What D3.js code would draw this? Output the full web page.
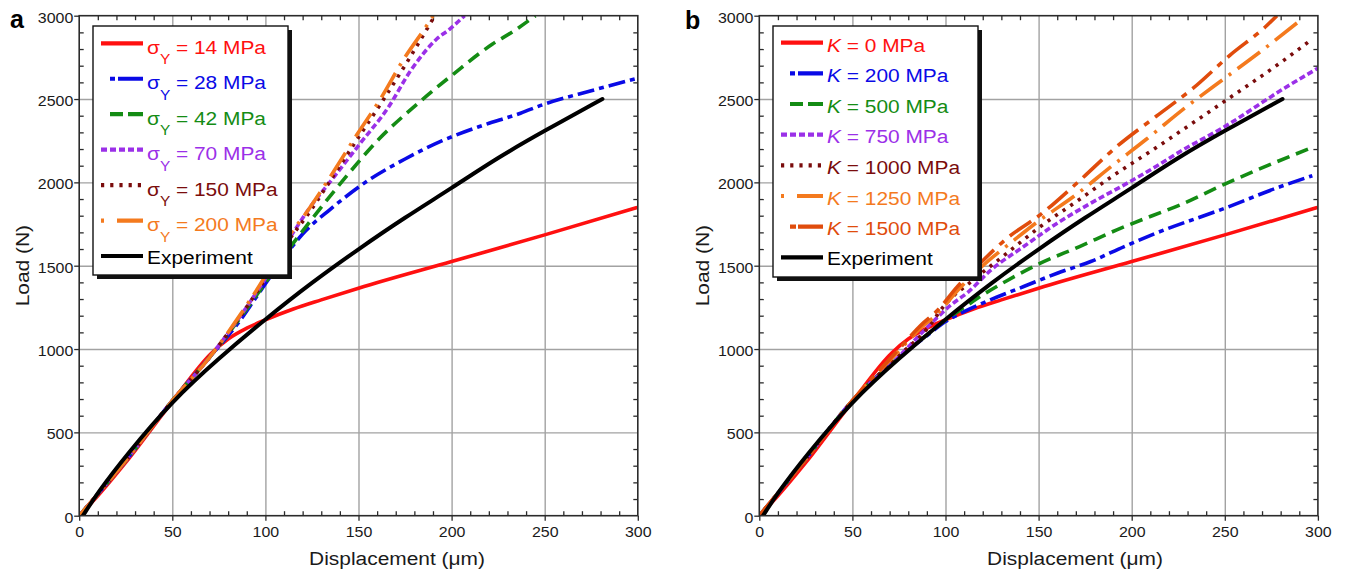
<!DOCTYPE html>
<html><head><meta charset="utf-8">
<script src="https://cdn.jsdelivr.net/npm/d3@7"></script>
<style>
body{margin:0;background:#fff}
svg{display:block}
text{font-family:"Liberation Sans",Arial,Helvetica,sans-serif}
</style>
</head><body>
<svg id="c" width="1345" height="575"></svg>
<script>
// ---------------- data ----------------
const xTicks = [0, 50, 100, 150, 200, 250, 300];
const yTicks = [0, 500, 1000, 1500, 2000, 2500, 3000];

const experiment = [[2,0],[10,140],[25,360],[50,690],[75,945],[100,1180],[125,1400],[150,1600],[175,1790],[200,1965],[225,2150],[250,2310],[281,2500]];

// panel a : yield stress
const sigmaY14  = [[0,0],[10,120],[25,320],[50,685],[71,975],[80,1060],[90,1125],[100,1175],[115,1240],[130,1295],[150,1365],[200,1525],[250,1685],[300,1850]];
const sigmaY28  = [[0,0],[10,130],[25,330],[50,690],[70,950],[85,1150],[95,1310],[110,1550],[120,1690],[135,1840],[155,2010],[175,2140],[195,2250],[215,2335],[237,2415],[250,2470],[275,2550],[300,2625]];
const sigmaY42  = [[0,0],[10,130],[25,330],[50,690],[70,950],[87,1195],[97,1350],[110,1560],[125,1780],[143,2030],[161,2260],[181,2465],[201,2650],[222,2830],[233,2905],[245,3000]];
const sigmaY70  = [[0,0],[10,130],[25,330],[50,690],[70,950],[87,1205],[97,1370],[115,1700],[124,1850],[137,2035],[151,2235],[166,2450],[178,2670],[192,2860],[199,2920],[207,3000]];
const sigmaY150 = [[0,0],[10,130],[25,330],[50,690],[70,950],[87,1205],[97,1370],[113,1660],[123,1810],[136,2030],[150,2270],[163,2490],[176,2720],[191,3000]];
const sigmaY200 = [[0,0],[10,130],[25,330],[50,690],[70,950],[87,1214],[97,1384],[113,1684],[123,1834],[136,2054],[149,2284],[162,2504],[174,2734],[188,2964],[190,3000]];
const labelsA = ["14", "28", "42", "70", "150", "200"];

// panel b : hardening modulus
const k0    = sigmaY14;
const k200  = [[0,0],[10,135],[25,340],[50,690],[75,950],[90,1080],[100,1165],[110,1225],[124,1295],[142,1375],[160,1455],[178,1525],[196,1615],[213,1695],[250,1845],[280,1975],[297,2040]];
const k500  = [[0,0],[10,135],[25,340],[50,690],[75,950],[90,1085],[100,1175],[110,1250],[120,1325],[133,1410],[151,1515],[172,1615],[192,1715],[211,1800],[226,1865],[250,1990],[297,2210]];
const k750  = [[0,0],[10,135],[25,340],[50,690],[75,955],[92,1150],[103,1265],[112,1340],[124,1470],[142,1615],[160,1755],[178,1875],[196,1985],[213,2095],[226,2185],[250,2335],[282,2565],[300,2685]];
const k1000 = [[0,0],[10,135],[25,340],[50,690],[75,960],[90,1120],[100,1270],[115,1415],[133,1575],[151,1735],[171,1890],[190,2040],[210,2185],[226,2305],[251,2495],[282,2735],[297,2860]];
const k1250 = [[0,0],[10,135],[25,340],[50,690],[75,990],[87,1130],[96,1215],[106,1345],[120,1500],[137,1655],[149,1760],[170,1925],[189,2095],[208,2260],[229,2450],[250,2625],[271,2800],[292,2985]];
const k1500 = [[0,0],[10,135],[25,340],[50,690],[75,1000],[87,1145],[96,1235],[106,1370],[120,1530],[132,1655],[152,1815],[171,2000],[192,2215],[213,2395],[233,2565],[253,2765],[272,2935],[278,3000]];
const labelsB = ["0", "200", "500", "750", "1000", "1250", "1500"];

// ---------------- styles ----------------
const RED = "#ff1010", BLUE = "#0a0ae6", GREEN = "#148c14", PURPLE = "#9b30e8",
      BROWN = "#7a0c0c", ORANGE = "#f47a1e", DKORANGE = "#e04c0c";
const DASH = {solid: null, dashdot: "17,5,5,5", dash: "13,7", shortdash: "6,3",
              dot: "3.2,6", dotlong: "28,8,3,8", shortlong: "26,7.5,6,7.5"};
const LEGDASH = {solid: null, dashdot: "0,9,5,3,25,100", dash: "0,9,13,5,15,100", shortdash: "6,3",
              dot: "3.2,6", dotlong: "3,13,26,100", shortlong: "0,9,6,2,26,100"};

const seriesA = [
  {data: sigmaY14,  color: RED,    dash: "solid",     lab: labelsA[0]},
  {data: sigmaY28,  color: BLUE,   dash: "dashdot",   lab: labelsA[1]},
  {data: sigmaY42,  color: GREEN,  dash: "dash",      lab: labelsA[2]},
  {data: sigmaY70,  color: PURPLE, dash: "shortdash", lab: labelsA[3]},
  {data: sigmaY150, color: BROWN,  dash: "dot",       lab: labelsA[4]},
  {data: sigmaY200, color: ORANGE, dash: "dotlong",   lab: labelsA[5]}
];
const seriesB = [
  {data: k0,    color: RED,      dash: "solid",     lab: labelsB[0]},
  {data: k200,  color: BLUE,     dash: "dashdot",   lab: labelsB[1]},
  {data: k500,  color: GREEN,    dash: "dash",      lab: labelsB[2]},
  {data: k750,  color: PURPLE,   dash: "shortdash", lab: labelsB[3]},
  {data: k1000, color: BROWN,    dash: "dot",       lab: labelsB[4]},
  {data: k1250, color: ORANGE,   dash: "dotlong",   lab: labelsB[5]},
  {data: k1500, color: DKORANGE, dash: "shortlong", lab: labelsB[6]}
];

const svg = d3.select("#c");
const TOP = 15.7, W = 558.6, H = 500, SX = 1.1, LW = 3.6;

function drawPanel(id, left, series, leg, letter, letterPos, titleX) {
  const g = svg.append("g").attr("transform", `translate(${left},${TOP})`);
  const x = d3.scaleLinear().domain([0, 300]).range([0, W]);
  const y = d3.scaleLinear().domain([0, 3000]).range([H, 0]);

  // grid
  g.append("g").call(d3.axisBottom(x).tickValues(xTicks.slice(1, -1)).tickSize(H).tickFormat(""))
    .call(s => { s.select(".domain").remove(); s.selectAll("line").attr("stroke", "#a2a2a2").attr("stroke-width", 1.4); });
  g.append("g").call(d3.axisLeft(y).tickValues(yTicks.slice(1, -1)).tickSize(-W).tickFormat(""))
    .call(s => { s.select(".domain").remove(); s.selectAll("line").attr("stroke", "#a2a2a2").attr("stroke-width", 1.4); });

  // minor ticks (inward)
  const xMinor = d3.range(10, 300, 10).filter(v => v % 50 !== 0);
  const yMinor = d3.range(100, 3000, 100).filter(v => v % 500 !== 0);
  const styleTicks = s => { s.select(".domain").remove(); s.selectAll("line").attr("stroke", "#2b2b2b").attr("stroke-width", 1.3); };
  g.append("g").attr("transform", `translate(0,${H})`).call(d3.axisBottom(x).tickValues(xMinor).tickSize(-4.5).tickFormat("")).call(styleTicks);
  g.append("g").call(d3.axisTop(x).tickValues(xMinor).tickSize(-4.5).tickFormat("")).call(styleTicks);
  g.append("g").call(d3.axisLeft(y).tickValues(yMinor).tickSize(-4.5).tickFormat("")).call(styleTicks);
  g.append("g").attr("transform", `translate(${W},0)`).call(d3.axisRight(y).tickValues(yMinor).tickSize(-4.5).tickFormat("")).call(styleTicks);

  // major axes with labels
  g.append("g").attr("transform", `translate(0,${H})`)
    .call(d3.axisBottom(x).tickValues(xTicks).tickSize(5).tickFormat(d3.format("d")))
    .call(s => {
      s.select(".domain").remove();
      s.selectAll("line").attr("stroke", "#2b2b2b").attr("stroke-width", 1.3);
      s.selectAll("text").attr("y", 21.5).attr("dy", null).attr("transform", `scale(${SX},1)`)
        .attr("font-size", 14.5).attr("fill", "#1a1a1a").attr("font-family", null);
    });
  g.append("g")
    .call(d3.axisLeft(y).tickValues(yTicks).tickSize(5).tickFormat(d3.format("d")))
    .call(s => {
      s.select(".domain").remove();
      s.selectAll("line").attr("stroke", "#2b2b2b").attr("stroke-width", 1.3);
      s.selectAll("text").attr("x", -5.4).attr("y", 6.6).attr("dy", null).attr("transform", `scale(${SX},1)`)
        .attr("font-size", 14.5).attr("fill", "#1a1a1a").attr("font-family", null);
    });

  // clip + lines
  g.append("clipPath").attr("id", "clip" + id).append("rect").attr("x", 0).attr("y", 0).attr("width", W).attr("height", H);
  const line = d3.line().x(d => x(d[0])).y(d => y(d[1])).curve(d3.curveMonotoneX);
  const lg = g.append("g").attr("clip-path", `url(#clip${id})`);
  series.forEach(s => {
    lg.append("path").attr("d", line(s.data)).attr("fill", "none").attr("stroke", s.color)
      .attr("stroke-width", LW).attr("stroke-dasharray", DASH[s.dash]).attr("stroke-linejoin", "round");
  });
  lg.append("path").attr("d", d3.line().x(d => x(d[0])).y(d => y(d[1])).curve(d3.curveBasis)(experiment))
    .attr("fill", "none").attr("stroke", "#000")
    .attr("stroke-width", LW + 0.4).attr("stroke-linecap", "round");

  // frame
  g.append("rect").attr("width", W).attr("height", H).attr("fill", "none").attr("stroke", "#2b2b2b").attr("stroke-width", 1.6);

  // legend (absolute coords)
  const L = svg.append("g");
  L.append("rect").attr("x", leg.x + 4).attr("y", leg.y + 4).attr("width", leg.w).attr("height", leg.h).attr("fill", "#111");
  L.append("rect").attr("x", leg.x).attr("y", leg.y).attr("width", leg.w).attr("height", leg.h)
    .attr("fill", "#fff").attr("stroke", "#111").attr("stroke-width", 1.4);
  const rows = series.map(s => ({color: s.color, dash: s.dash, lab: s.lab, exp: false}))
    .concat([{color: "#000", dash: "solid", lab: "Experiment", exp: true}]);
  rows.forEach((r, i) => {
    const ry = leg.y0 + i * leg.step;
    L.append("path").attr("d", `M${leg.lx0},${ry}H${leg.lx1}`).attr("stroke", r.color)
      .attr("stroke-width", LW + 0.6).attr("stroke-dasharray", LEGDASH[r.dash]).attr("fill", "none");
    if (r.exp) {
      L.append("text").attr("transform", `translate(${leg.tx},${ry + 7.5}) scale(${SX},1)`)
        .attr("font-size", 19).attr("fill", "#000").text("Experiment");
    } else if (leg.kind === "sigma") {
      const t = L.append("text").attr("transform", `translate(${leg.tx},${ry + 10.5}) scale(${SX},1)`)
        .attr("font-size", 19).attr("fill", r.color);
      t.append("tspan").text("σ");
      t.append("tspan").attr("font-size", 14).attr("dy", 10.5).text("Y");
      t.append("tspan").attr("dy", -10.5).text(` = ${r.lab} MPa`);
    } else {
      const t = L.append("text").attr("transform", `translate(${leg.tx},${ry + 8.8}) scale(${SX},1)`)
        .attr("font-size", 19).attr("fill", r.color);
      t.append("tspan").attr("font-style", "italic").text("K");
      t.append("tspan").text(` = ${r.lab} MPa`);
    }
  });

  // titles
  svg.append("text").attr("transform", `translate(${titleX},565) scale(${SX},1)`).attr("text-anchor", "middle")
    .attr("font-size", 19).attr("fill", "#1a1a1a").text("Displacement (μm)");
  svg.append("text").attr("transform", `translate(${left - 50},${TOP + H / 2}) rotate(-90) scale(${SX},1)`)
    .attr("text-anchor", "middle").attr("font-size", 19).attr("fill", "#1a1a1a").text("Load (N)");
  svg.append("text").attr("x", letterPos[0]).attr("y", letterPos[1]).attr("font-size", 25).attr("font-weight", "bold")
    .attr("fill", "#000").text(letter);
}

drawPanel("a", 79.2, seriesA,
  {x: 93, y: 26, w: 195, h: 249, y0: 43.3, step: 35.45, lx0: 101, lx1: 143, tx: 147, kind: "sigma"},
  "a", [10, 28], 397);
drawPanel("b", 759.3, seriesB,
  {x: 773, y: 26, w: 205, h: 251, y0: 42.7, step: 30.66, lx0: 781, lx1: 823, tx: 827, kind: "k"},
  "b", [685, 29], 1075);
</script>
</body></html>
